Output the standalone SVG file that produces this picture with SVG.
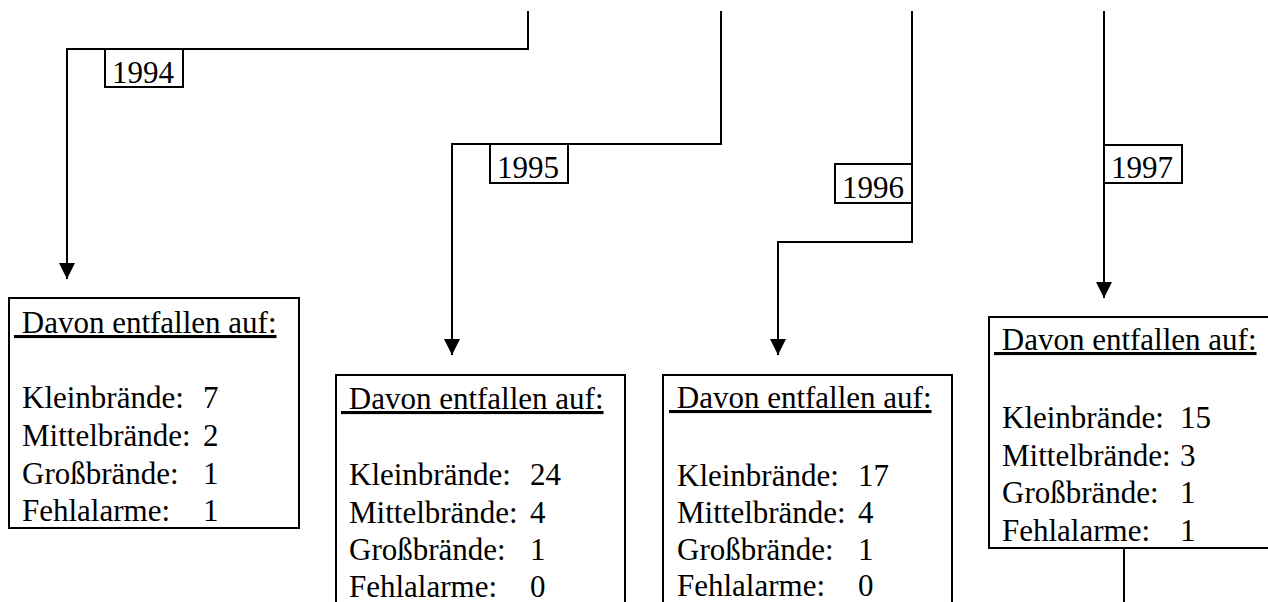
<svg xmlns="http://www.w3.org/2000/svg" width="1268" height="602" viewBox="0 0 1268 602">
<style>
text{font-family:"Liberation Serif","Times New Roman",serif;font-size:31px;fill:#000}
.box{fill:#fff;stroke:#000;stroke-width:2}
.conn{fill:none;stroke:#000;stroke-width:2}
.u{text-decoration:underline}
</style>
<defs>
<marker id="arr" viewBox="0 0 16 16" refX="16" refY="8" markerWidth="16" markerHeight="16" markerUnits="userSpaceOnUse" orient="auto">
<path d="M0,0 L16,8 L0,16 z" fill="#000"/>
</marker>
</defs>
<rect width="1268" height="602" fill="#fff"/>
<g id="connectors">
<path class="conn" d="M528,11 V49 H67 V279" marker-end="url(#arr)"/>
<path class="conn" d="M721,11 V144 H452 V355" marker-end="url(#arr)"/>
<path class="conn" d="M912,11 V242 H778 V355" marker-end="url(#arr)"/>
<path class="conn" d="M1104,11 V298" marker-end="url(#arr)"/>
<path class="conn" d="M1124,548 V602"/>
</g>
<g id="label1994"><rect class="box" x="105" y="49" width="78" height="38"/><text x="112" y="83">1994</text></g>
<g id="label1995"><rect class="box" x="490" y="144" width="78" height="39"/><text x="497" y="178">1995</text></g>
<g id="label1996"><rect class="box" x="835" y="164" width="77" height="39"/><text x="842" y="198">1996</text></g>
<g id="label1997"><rect class="box" x="1104" y="145" width="78" height="38"/><text x="1111" y="178">1997</text></g>
<g id="box1994">
<rect class="box" x="9" y="298" width="290" height="230"/>
<text class="u" x="14" y="333">&#160;Davon entfallen auf:</text>
<text x="22" y="408">Kleinbrände:</text><text x="203" y="408">7</text>
<text x="22" y="446">Mittelbrände:</text><text x="203" y="446">2</text>
<text x="22" y="484">Großbrände:</text><text x="203" y="484">1</text>
<text x="22" y="521">Fehlalarme:</text><text x="203" y="521">1</text>
</g>
<g id="box1995">
<rect class="box" x="336" y="375" width="289" height="240"/>
<text class="u" x="341" y="409">&#160;Davon entfallen auf:</text>
<text x="349" y="485">Kleinbrände:</text><text x="530" y="485">24</text>
<text x="349" y="523">Mittelbrände:</text><text x="530" y="523">4</text>
<text x="349" y="560">Großbrände:</text><text x="530" y="560">1</text>
<text x="349" y="597">Fehlalarme:</text><text x="530" y="597">0</text>
</g>
<g id="box1996">
<rect class="box" x="663" y="375" width="289" height="240"/>
<text class="u" x="669" y="408">&#160;Davon entfallen auf:</text>
<text x="677" y="486">Kleinbrände:</text><text x="858" y="486">17</text>
<text x="677" y="523">Mittelbrände:</text><text x="858" y="523">4</text>
<text x="677" y="560">Großbrände:</text><text x="858" y="560">1</text>
<text x="677" y="596">Fehlalarme:</text><text x="858" y="596">0</text>
</g>
<g id="box1997">
<rect class="box" x="989" y="317" width="300" height="231"/>
<text class="u" x="994" y="350">&#160;Davon entfallen auf:</text>
<text x="1002" y="428">Kleinbrände:</text><text x="1180" y="428">15</text>
<text x="1002" y="466">Mittelbrände:</text><text x="1180" y="466">3</text>
<text x="1002" y="503">Großbrände:</text><text x="1180" y="503">1</text>
<text x="1002" y="541">Fehlalarme:</text><text x="1180" y="541">1</text>
</g>
</svg>
